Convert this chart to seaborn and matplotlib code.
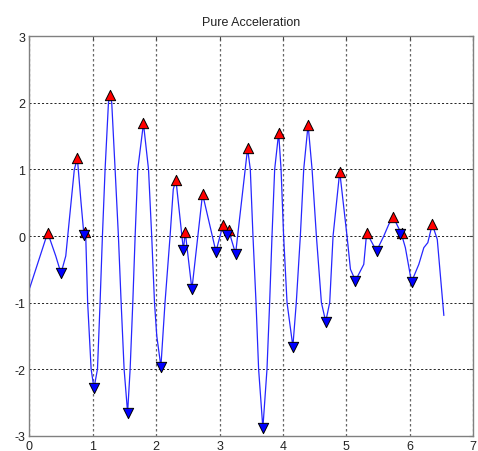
import matplotlib
matplotlib.use("Agg")
import matplotlib.pyplot as plt
import seaborn as sns
import pandas as pd

# ---- data ----
curve_x = [0.00, 0.29, 0.417, 0.50, 0.575, 0.606, 0.71, 0.758, 0.816, 0.86, 0.89, 0.92,
           0.975, 1.02, 1.075, 1.116, 1.153, 1.195, 1.248, 1.274, 1.30, 1.353, 1.405, 1.448,
           1.495, 1.55, 1.59, 1.632, 1.669, 1.71, 1.80, 1.88, 1.93, 1.974, 2.01, 2.075,
           2.14, 2.22, 2.27, 2.312, 2.43, 2.459, 2.564, 2.732, 2.943, 3.054, 3.117, 3.142,
           3.253, 3.442, 3.485, 3.527, 3.575, 3.616, 3.683, 3.748, 3.79, 3.827, 3.869, 3.932,
           3.97, 4.01, 4.064, 4.156, 4.21, 4.274, 4.327, 4.396, 4.459, 4.527, 4.606, 4.674,
           4.737, 4.79, 4.895, 5.01, 5.064, 5.143, 5.274, 5.32, 5.475, 5.59, 5.669, 5.738,
           5.865, 5.93, 6.027, 6.142, 6.221, 6.284, 6.354, 6.433, 6.537]
curve_y = [-0.80, 0.05, -0.30, -0.56, -0.30, 0.00, 1.00, 1.166, 0.50, 0.03, 0.00, -1.00,
           -2.00, -2.286, -2.00, -1.00, 0.00, 1.00, 2.00, 2.12, 2.00, 1.00, 0.00, -1.00,
           -2.00, -2.655, -2.00, -1.00, 0.00, 1.00, 1.69, 1.00, 0.00, -1.00, -1.50, -1.962,
           -1.00, 0.00, 0.70, 0.846, -0.21, 0.06, -0.80, 0.632, -0.235, 0.166, 0.01, 0.09,
           -0.265, 1.316, 1.00, 0.00, -1.00, -2.00, -2.886, -2.00, -1.00, 0.00, 1.00, 1.547,
           1.00, 0.00, -1.00, -1.66, -1.00, 0.00, 1.00, 1.672, 1.00, 0.00, -1.00, -1.285,
           -1.00, 0.00, 0.967, 0.00, -0.50, -0.67, -0.426, 0.05, -0.226, 0.00, 0.176, 0.286,
           0.04, -0.175, -0.69, -0.426, -0.175, -0.10, 0.176, -0.05, -1.194]

peak_x = [0.29, 0.758, 0.88, 1.274, 1.80, 2.312, 2.459, 2.732, 3.054, 3.142, 3.442, 3.932,
          4.396, 4.895, 5.32, 5.738, 5.88, 6.354]
peak_y = [0.05, 1.166, 0.056, 2.12, 1.69, 0.846, 0.06, 0.632, 0.166, 0.09, 1.316, 1.547,
          1.672, 0.967, 0.05, 0.286, 0.05, 0.176]

trough_x = [0.50, 0.86, 1.02, 1.55, 2.075, 2.43, 2.564, 2.943, 3.117, 3.253, 3.683, 4.156,
            4.674, 5.143, 5.475, 5.853, 6.027]
trough_y = [-0.56, 0.015, -2.286, -2.655, -1.962, -0.21, -0.80, -0.235, 0.01, -0.265, -2.886,
            -1.66, -1.285, -0.67, -0.226, 0.026, -0.69]

x_ticks = [0, 1, 2, 3, 4, 5, 6, 7]
y_ticks = [-3, -2, -1, 0, 1, 2, 3]
title = "Pure Acceleration"

# ---- plot ----
sns.set_theme(style="white")
plt.rcParams["font.family"] = ["Liberation Sans", "DejaVu Sans"]
plt.rcParams["axes.unicode_minus"] = False

fig = plt.figure(figsize=(4.78, 4.52), dpi=100)
ax = fig.add_axes([0.0613, 0.0338, 0.9287, 0.8837])

curve = pd.DataFrame({"x": curve_x, "y": curve_y})
peaks = pd.DataFrame({"x": peak_x, "y": peak_y})
troughs = pd.DataFrame({"x": trough_x, "y": trough_y})

sns.lineplot(data=curve, x="x", y="y", sort=False, estimator=None, ax=ax,
             color="#2626ff", linewidth=0.9, zorder=2)
sns.scatterplot(data=peaks, x="x", y="y", ax=ax, marker="^", s=55, color="#ff0000",
                edgecolor="black", linewidth=0.7, zorder=3)
sns.scatterplot(data=troughs, x="x", y="y", ax=ax, marker="v", s=55, color="#0000ff",
                edgecolor="black", linewidth=0.7, zorder=4)

ax.set_xlim(0, 7)
ax.set_ylim(-3, 3)
ax.set_xticks(x_ticks)
ax.set_yticks(y_ticks)
ax.set_xlabel("")
ax.set_ylabel("")
ax.set_title(title, fontsize=9, pad=8, color="#222222")

ax.xaxis.grid(True, color="#666666", linestyle=(0, (2, 2)), linewidth=0.9)
ax.yaxis.grid(True, color="black", linestyle=(0, (2.5, 2.5)), linewidth=0.6)
ax.set_axisbelow(True)

for s in ax.spines.values():
    s.set_color("#808080")
    s.set_linewidth(1.0)

ax.tick_params(axis="both", direction="in", length=3, width=0.8, color="#444444",
               labelsize=9, labelcolor="#222222", top=True, right=True, pad=3)

fig.savefig("out.png", dpi=100)
